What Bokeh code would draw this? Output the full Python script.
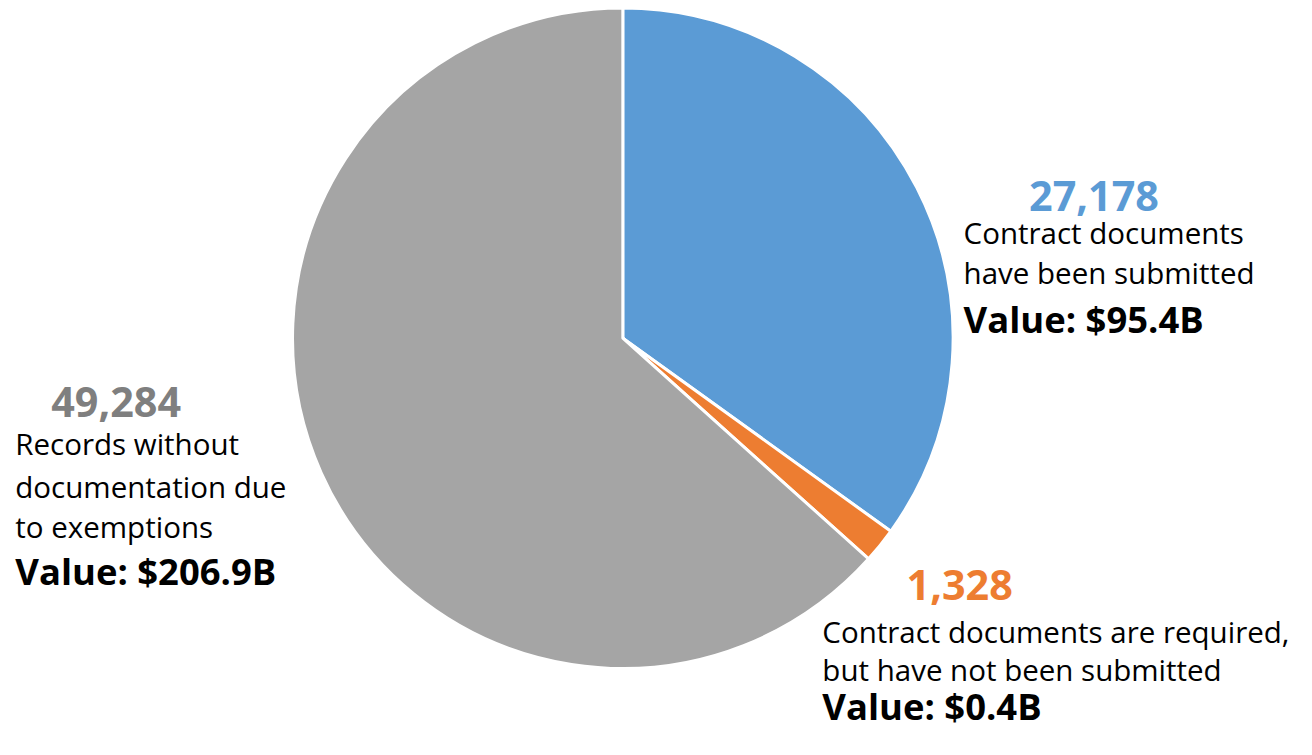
import math
from bokeh.plotting import figure
from bokeh.models import Range1d
from bokeh.core.properties import value
from bokeh.embed import file_html
from bokeh.resources import INLINE

# ---- data ----
categories = ["Contract documents have been submitted",
              "Contract documents are required, but have not been submitted",
              "Records without documentation due to exemptions"]
counts = [27178, 1328, 49284]
count_labels = ["27,178", "1,328", "49,284"]
value_labels = ["Value: $95.4B", "Value: $0.4B", "Value: $206.9B"]
desc_lines = [["Contract documents", "have been submitted"],
              ["Contract documents are required,", "but have not been submitted"],
              ["Records without", "documentation due", "to exemptions"]]
colors = ["#5B9BD5", "#ED7D31", "#A5A5A5"]
label_colors = ["#5B9BD5", "#ED7D31", "#7F7F7F"]

W, H = 1296, 739
FONT = "Open Sans"
SX, SY = W / 1312, H / 755
S = 0.983

p = figure(width=W, height=H, x_range=Range1d(0, W), y_range=Range1d(0, H),
           output_backend="svg", toolbar_location=None, min_border=0)
p.axis.visible = False
p.grid.visible = False
p.outline_line_color = None
p.background_fill_color = "white"

def Y(img_y):
    return (755 - img_y) * SY
def X(img_x):
    return img_x * SX
def fs(px):
    return f"{px * S:.1f}px"

cx, cy, r = X(630), Y(345), 336 * S
total = sum(counts)
start = math.pi / 2
starts, ends = [], []
for c in counts:
    ang = 2 * math.pi * c / total
    starts.append(start - ang)
    ends.append(start)
    start -= ang

p.wedge(x=[cx] * 3, y=[cy] * 3, radius=r, start_angle=starts, end_angle=ends,
        fill_color=colors, line_color="white", line_width=3)

# label layout (reference image coordinates)
count_pos = [(1107, 200), (971, 597), (117, 410)]
desc_pos = [(975, [237, 278]), (832, [645, 683]), (15, [453, 497, 537])]
val_pos = [(975, 325), (832, 721), (15, 583)]

for i in range(3):
    p.text(x=[X(count_pos[i][0])], y=[Y(count_pos[i][1])], text=[count_labels[i]],
           text_font=value(FONT), text_font_style="bold", text_font_size=fs(42),
           text_color=label_colors[i], text_align="center", text_baseline="alphabetic")
    lx, ys = desc_pos[i]
    for line, yy in zip(desc_lines[i], ys):
        p.text(x=[X(lx)], y=[Y(yy)], text=[line], text_font=value(FONT),
               text_font_size=fs(30), text_color="black",
               text_align="left", text_baseline="alphabetic")
    p.text(x=[X(val_pos[i][0])], y=[Y(val_pos[i][1])], text=[value_labels[i]],
           text_font=value(FONT), text_font_style="bold", text_font_size=fs(37),
           text_color="black", text_align="left", text_baseline="alphabetic")

open("out.html", "w").write(file_html(p, INLINE))
